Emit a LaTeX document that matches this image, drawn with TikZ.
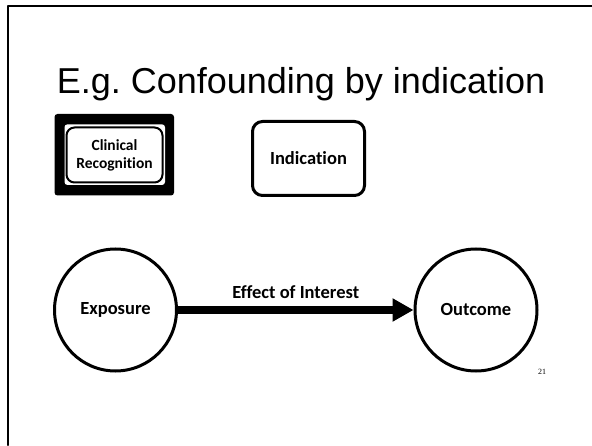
\documentclass[tikz,border=0pt]{standalone}
\usepackage{fontspec}
\setmainfont{Liberation Serif}
\newfontfamily\titlefont{Liberation Sans}
\newfontfamily\boxfont[Ligatures=NoCommon]{Carlito}
\usetikzlibrary{arrows.meta}
\tikzset{
  every picture/.style={line join=round, line cap=round, >=Stealth},
  varbox/.style={draw, fill=white, line width=3pt, rounded corners=10pt, align=center,
    font=\boxfont\bfseries\fontsize{18.5}{22}\selectfont},
  varcircle/.style={draw, circle, fill=white, line width=3pt, minimum size=122pt, inner sep=0pt,
    font=\boxfont\bfseries\fontsize{18.5}{22}\selectfont},
  effect/.style={-{Triangle[length=21pt,width=22pt]}, line width=8pt, line cap=butt},
}

\begin{document}
\begin{tikzpicture}[x=1pt,y=1pt]
\useasboundingbox (0,0) rectangle (592,445);
% slide frame
\draw[line width=2.5pt] (8,0) -- (8,439) -- (592,439);
\node[anchor=base, font=\titlefont\fontsize{36}{40}\selectfont] (title) at (301,351) {\frenchspacing E.g. Confounding by indication};
% variables
\coordinate (clinpos) at (114.5,290);
\fill[rounded corners=3pt] ([shift={(-60,-40.5)}]clinpos) rectangle ([shift={(59.5,41)}]clinpos);
\fill[white, rounded corners=3pt] ([shift={(-50,-30)}]clinpos) rectangle ([shift={(50.5,30.7)}]clinpos);
\node[varbox, line width=2pt, rounded corners=8pt, minimum width=96pt, minimum height=55pt, inner sep=2pt,
  font=\boxfont\bfseries\fontsize{15.5}{18}\selectfont] (clin) at (clinpos) {Clinical\\Recognition};
\node[varbox, minimum width=112pt, minimum height=74pt] (ind) at (308.5,286.5) {Indication};
\node[varcircle] (expo) at (115.5,135) {Exposure};
\node[varcircle] (outc) at (476,135) {Outcome};
\draw[effect] (expo) -- (outc) node[midway, above=4pt, font=\boxfont\bfseries\fontsize{18.5}{22}\selectfont] {Effect of Interest};
\node[font=\fontsize{8}{9}\selectfont] (pagenum) at (542,73) {21};
\end{tikzpicture}
\end{document}
